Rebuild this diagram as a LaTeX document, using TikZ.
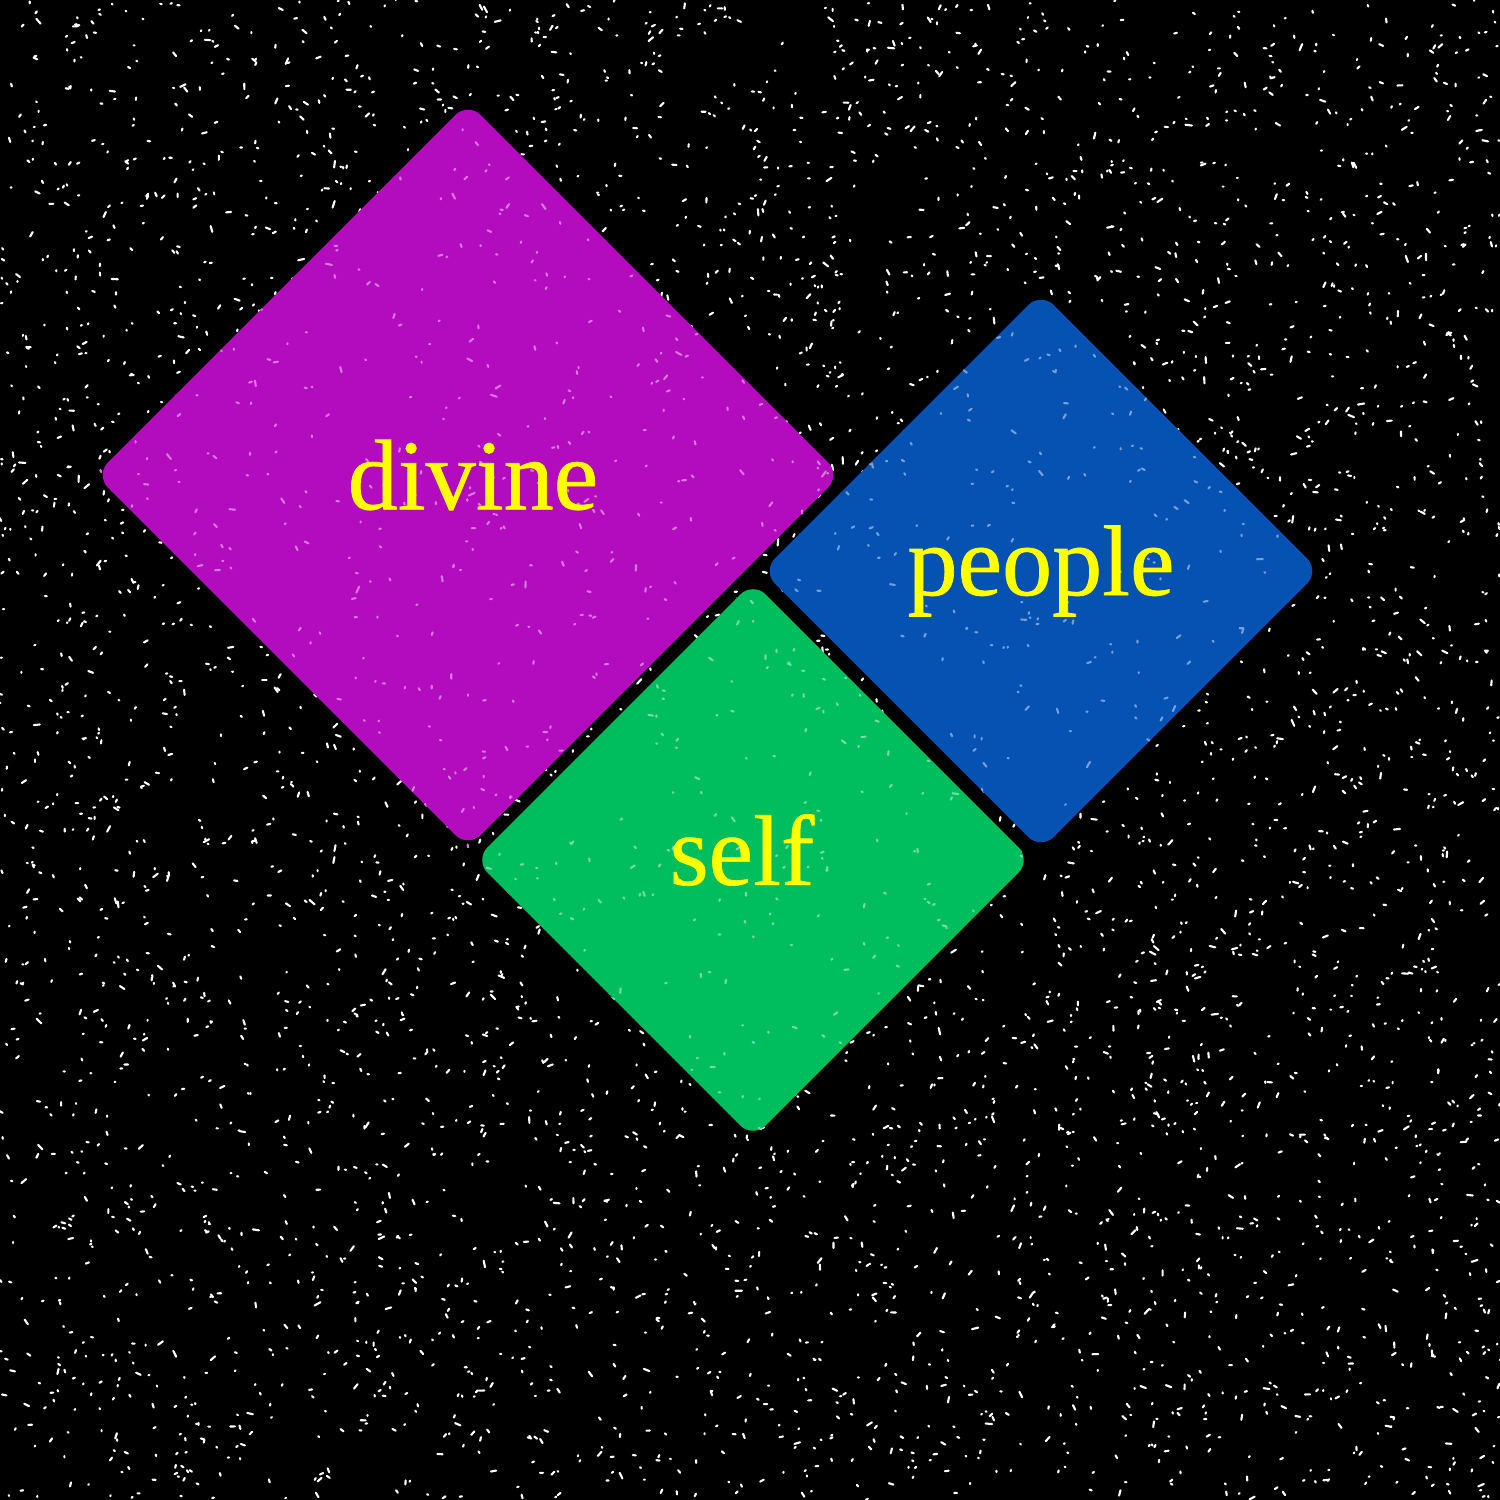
\documentclass[tikz,border=0pt]{standalone}
\usepackage{fontspec}
\setmainfont{Liberation Serif}[FakeBold=0.7]
\usetikzlibrary{shapes.geometric}
\definecolor{DivinePurple}{RGB}{178, 12, 190}
\definecolor{PeopleBlue}{RGB}{6, 82, 178}
\definecolor{SelfGreen}{RGB}{0, 190, 94}
\definecolor{WordYellow}{RGB}{255, 255, 0}

% scattered short dashes: count, xmin, xmax, ymin, ymax, colour
\newcommand{\scatterspecks}[6]{%
	\foreach \i in {1,...,#1}{
		\pgfmathsetmacro{\sx}{#2+rnd*(#3-#2)}
		\pgfmathsetmacro{\sy}{#4+rnd*(#5-#4)}
		\pgfmathsetmacro{\sa}{rnd*180}
		\pgfmathsetmacro{\sl}{0.01+0.06*rnd*rnd}
		\draw[#6, line width=0.6pt, line cap=round] (\sx, \sy) -- ++(\sa:\sl);
	}}

\tikzset{
	tile/.style={diamond, aspect=1, inner sep=0pt, rounded corners=0.18cm},
	word/.style={text=WordYellow, font=\fontsize{28.5}{34}\selectfont},
}

\begin{document}
\begin{tikzpicture}
		\useasboundingbox (0, 0) rectangle (15, 15);
		\fill[black] (0, 0) rectangle (15, 15);
		\pgfmathsetseed{42}
		\scatterspecks{5000}{0}{15}{0}{15}{white}

		\node[tile, fill=DivinePurple, minimum size=7.46cm] (divinetile) at (4.68, 10.25) {};
		\node[tile, fill=PeopleBlue, minimum size=5.58cm] (peopletile) at (10.41, 9.29) {};
		\node[tile, fill=SelfGreen, minimum size=5.57cm] (selftile) at (7.53, 6.40) {};

		% lighter specks on the tiles
		\begin{scope}
			\clip (divinetile.north) -- (divinetile.east) -- (divinetile.south) -- (divinetile.west) -- cycle;
			\scatterspecks{600}{1}{8.4}{6.5}{14}{DivinePurple!55!white}
		\end{scope}
		\begin{scope}
			\clip (peopletile.north) -- (peopletile.east) -- (peopletile.south) -- (peopletile.west) -- cycle;
			\scatterspecks{300}{7.6}{13.2}{6.5}{12.1}{PeopleBlue!55!white}
		\end{scope}
		\begin{scope}
			\clip (selftile.north) -- (selftile.east) -- (selftile.south) -- (selftile.west) -- cycle;
			\scatterspecks{300}{4.7}{10.3}{3.6}{9.2}{SelfGreen!55!white}
		\end{scope}

		\node[word] (divine) at ([shift={(0.05, 0)}]divinetile.center) {divine};
		\node[word] (people) at (peopletile.center) {people};
		\node[word] (self) at ([shift={(-0.11, 0.10)}]selftile.center) {self};
	\end{tikzpicture}
\end{document}
